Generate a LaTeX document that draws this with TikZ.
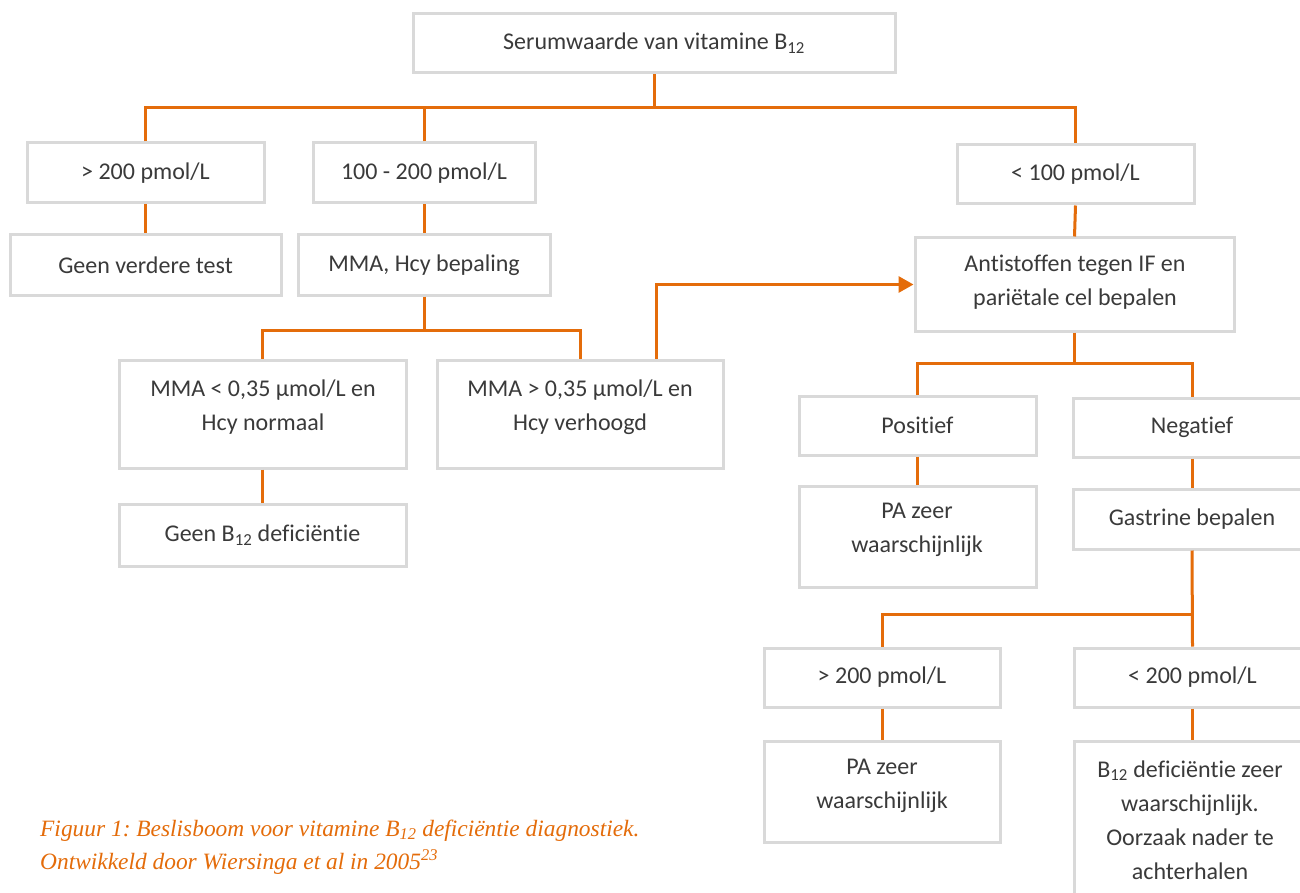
\documentclass[tikz,border=0pt]{standalone}
\usepackage{fontspec}
\setmainfont{Carlito}[Ligatures=NoCommon]
\newfontfamily\capfont{Liberation Serif}
\usetikzlibrary{arrows.meta}
\definecolor{boxgray}{HTML}{D9D9D9}
\definecolor{lineor}{HTML}{E46C0A}
\definecolor{txt}{HTML}{3A3A3A}
\frenchspacing
\tikzset{
  box/.style={draw=boxgray, line width=3pt, fill=white, inner sep=0pt, text=txt,
    font=\fontsize{24}{34}\selectfont},
  lbl/.style={text=txt, font=\fontsize{24}{34}\selectfont, align=center, inner sep=0pt},
  conn/.style={draw=lineor, line width=3pt},
  capt/.style={text=lineor, font=\capfont\itshape\fontsize{23.4}{33}\selectfont, align=left, inner sep=0pt},
}
\newcommand\bx[6]{\node[box, minimum width={(#4-#2)*1pt}, minimum height={(#5-#3)*1pt}] (#1) at ({(#2+#4)/2},{(#3+#5)/2}) {#6};}
\begin{document}
\begin{tikzpicture}[x=1pt,y=-1pt]
\useasboundingbox (0,0) rectangle (1300,893);
\fill[white] (0,0) rectangle (1300,893);

\bx{top}{413}{14}{895}{73}{Serumwaarde van vitamine B\textsubscript{12}}
\bx{a1}{27}{143}{264}{203}{> 200 pmol/L}
\bx{a2}{313}{143}{535}{203}{100 - 200 pmol/L}
\bx{a3}{957}{145}{1194}{204}{< 100 pmol/L}
\bx{b1}{10}{235}{281}{295}{Geen verdere test}
\bx{b2}{298}{235}{550}{295}{MMA, Hcy bepaling}
\bx{b3}{915}{238}{1234}{331}{}
\node[lbl] (b3t) at (1075,282) {Antistoffen tegen IF en\\pariëtale cel bepalen};
\bx{c1}{119}{360}{406}{468}{}
\node[lbl] (c1t) at (263,407) {MMA < 0,35 µmol/L en\\Hcy normaal};
\bx{c2}{437}{360}{723}{468}{}
\node[lbl] (c2t) at (580,407) {MMA > 0,35 µmol/L en\\Hcy verhoogd};
\bx{d1}{119}{504}{406}{566}{Geen B\textsubscript{12} deficiëntie}
\bx{p1}{799}{396}{1036}{455}{Positief}
\bx{n1}{1073}{398}{1311}{457}{Negatief}
\bx{p2}{799}{486}{1036}{587}{}
\node[lbl] (p2t) at (917,530) {PA zeer\\waarschijnlijk};
\bx{n2}{1073}{489}{1311}{549}{Gastrine bepalen}
\bx{g1}{764}{648}{1000}{707}{> 200 pmol/L}
\bx{g2}{1074}{648}{1311}{707}{< 200 pmol/L}
\bx{h1}{764}{741}{1000}{842}{}
\node[lbl] (h1t) at (882,786) {PA zeer\\waarschijnlijk};
\bx{h2}{1074}{741}{1311}{900}{}
\node[lbl] (h2t) at (1190,820) {B\textsubscript{12} deficiëntie zeer\\waarschijnlijk.\\Oorzaak nader te\\achterhalen};

% connectors
\coordinate (j1) at (655,108);
\draw[conn] (top.south) -- (top.south |- j1);
\draw[conn] (a1.north) |- (a3.north |- j1) -- (a3.north);
\draw[conn] (a2.north) -- (a2.north |- j1);
\draw[conn] (a1.south) -- (b1.north);
\draw[conn] (a2.south) -- (b2.north);
\draw[conn] (a3.south) -- (b3.north);
\coordinate (j2) at (424,330);
\draw[conn] (b2.south) -- (b2.south |- j2);
\draw[conn] (c1.north) |- (j2) -| (c2.north);
\draw[conn, -{Triangle[length=15pt,width=16pt]}] ([xshift=76pt]c2.north) |- (b3.west);
\draw[conn] (c1.south) -- (d1.north);
\coordinate (j3) at (1075,363);
\draw[conn] (b3.south) -- (b3.south |- j3);
\draw[conn] (p1.north) |- (n1.north |- j3) -- (n1.north);
\draw[conn] (p1.south) -- (p2.north);
\draw[conn] (n1.south) -- (n2.north);
\coordinate (j4) at (1192,614);
\draw[conn] (n2.south) -- (g2.north);
\draw[conn] (g1.north) |- (j4);
\draw[conn] (g1.south) -- (h1.north);
\draw[conn] (g2.south) -- (h2.north);

\node[capt, anchor=west] (cap) at (40,847) {Figuur 1: Beslisboom voor vitamine B\textsubscript{12} deficiëntie diagnostiek.\\Ontwikkeld door Wiersinga et al in 2005\textsuperscript{23}};
\end{tikzpicture}
\end{document}
